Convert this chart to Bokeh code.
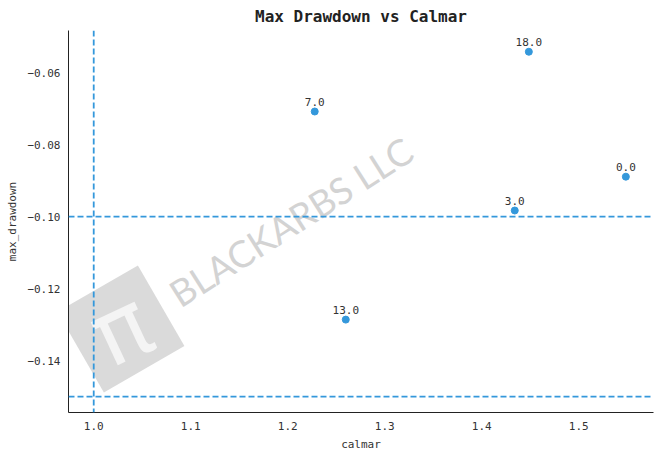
from bokeh.plotting import figure
from bokeh.models import Span, Label, Range1d, CustomJSTickFormatter, ColumnDataSource
from bokeh.embed import file_html
from bokeh.resources import INLINE

labels = ["0.0", "3.0", "7.0", "13.0", "18.0"]
calmar = [1.5485, 1.434, 1.2278, 1.2598, 1.4485]
max_drawdown = [-0.0889, -0.0983, -0.0708, -0.1286, -0.0542]
vline_x = [1.0]
hline_y = [-0.10, -0.15]

FONT = "DejaVu Sans Mono"
BLUE = "#3498db"

src = ColumnDataSource(dict(x=calmar, y=max_drawdown, t=labels))

p = figure(output_backend="svg", toolbar_location=None,
           x_range=Range1d(0.974, 1.577), y_range=Range1d(-0.1544, -0.0483),
           title="Max Drawdown vs Calmar",
           min_border_left=0, min_border_right=2, min_border_top=0, min_border_bottom=0)
p.frame_width = 585
p.frame_height = 382
p.margin = (0, 0, 0, 3)

p.title.text_font = FONT
p.title.text_font_size = "16px"
p.title.text_font_style = "bold"
p.title.align = "center"
p.title.text_color = "#222222"
p.title.standoff = 9

p.xgrid.visible = False
p.ygrid.visible = False
p.outline_line_color = None

for ax in (p.xaxis, p.yaxis):
    ax.major_tick_line_color = None
    ax.minor_tick_line_color = None
    ax.major_tick_out = 0
    ax.major_tick_in = 0
    ax.minor_tick_out = 0
    ax.minor_tick_in = 0
    ax.axis_line_color = "#222222"
    ax.major_label_text_font = FONT
    ax.major_label_text_font_size = "11px"
    ax.major_label_text_color = "#333333"
    ax.axis_label_text_font = FONT
    ax.axis_label_text_font_size = "11px"
    ax.axis_label_text_font_style = "normal"
    ax.axis_label_text_color = "#333333"
    ax.axis_label_standoff = 5

p.xaxis.axis_label = "calmar"
p.yaxis.axis_label = "max_drawdown"
p.xaxis.ticker = [1.0, 1.1, 1.2, 1.3, 1.4, 1.5]
p.yaxis.ticker = [-0.14, -0.12, -0.10, -0.08, -0.06]
p.xaxis.formatter = CustomJSTickFormatter(code="return tick.toFixed(1).replace('-', '\u2212');")
p.yaxis.formatter = CustomJSTickFormatter(code="return tick.toFixed(2).replace('-', '\u2212');")
p.xaxis.major_label_standoff = 9
p.yaxis.major_label_standoff = 8

# watermark
p.rect(x=[1.028], y=[-0.1312], width=93, height=93, width_units="screen", height_units="screen",
       angle=30, angle_units="deg", fill_color="#dadada", line_color=None)
p.add_layout(Label(x=1.028, y=-0.1312, text="\u03c0", text_font="DejaVu Sans", text_font_size="92px",
                   text_font_style="normal", text_color="#f4f4f4", text_align="center", text_baseline="middle",
                   angle=25, angle_units="deg"))
p.add_layout(Label(x=1.0814, y=-0.1222, text="BLACKARBS LLC", text_font="Lato", text_font_size="37px",
                   text_font_style="normal", text_color="#d3d3d3", text_align="left",
                   text_baseline="alphabetic", angle=32.5, angle_units="deg"))

for xv in vline_x:
    p.add_layout(Span(location=xv, dimension="height", line_color=BLUE, line_dash="6 3", line_width=1.8))
for yv in hline_y:
    p.add_layout(Span(location=yv, dimension="width", line_color=BLUE, line_dash="6 3", line_width=1.8))

p.scatter("x", "y", source=src, size=7, fill_color=BLUE, line_color=BLUE)
p.text("x", "y", text="t", source=src, text_font={"value": FONT}, text_font_size={"value": "11px"},
       text_color="#333333", text_align="center", text_baseline="alphabetic", y_offset=-10)

open("out.html", "w").write(file_html(p, INLINE))
